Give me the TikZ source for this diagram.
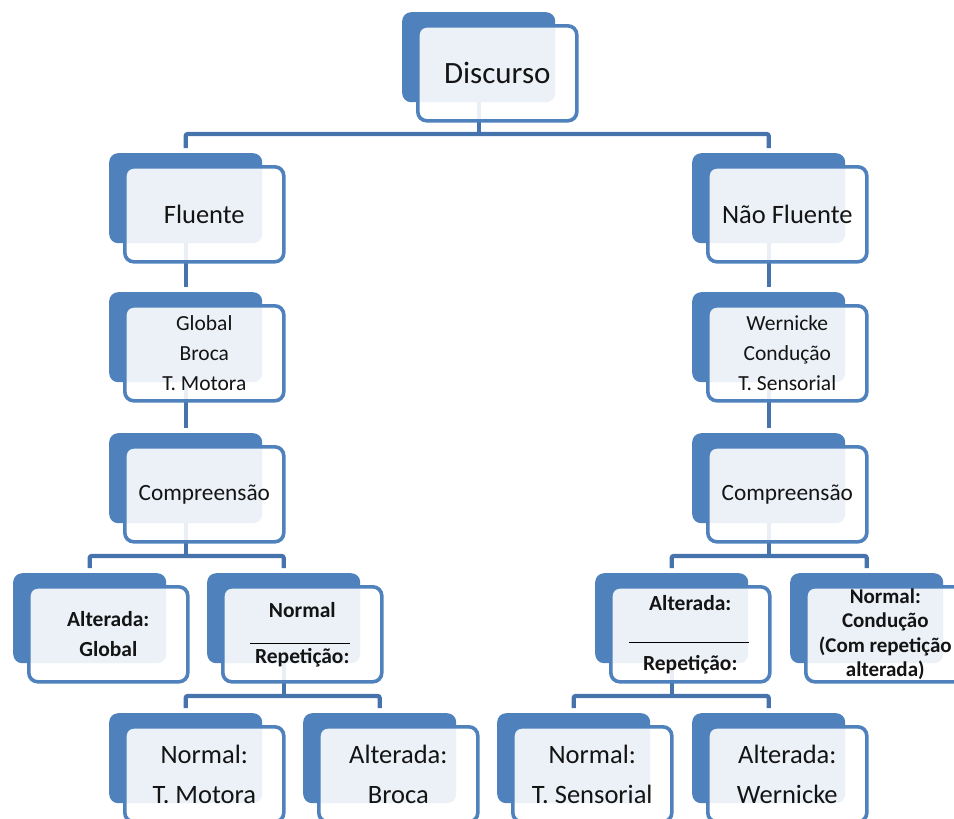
\documentclass[tikz,border=0pt]{standalone}
\usepackage{fontspec}
\setmainfont{Carlito}
\usetikzlibrary{backgrounds}
\definecolor{boxblue}{RGB}{79,129,189}
\definecolor{connblue}{RGB}{70,115,172}
\definecolor{txt}{RGB}{20,20,20}
\tikzset{
  backbox/.style={anchor=north west, fill=boxblue, draw=none, rounded corners=9pt,
    minimum width=153pt, minimum height=90pt, inner sep=0pt},
  frontbox/.style={anchor=north west, fill=white, fill opacity=0.89, text opacity=1,
    draw=boxblue, draw opacity=1, line width=3.6pt, rounded corners=9pt,
    minimum width=159pt, minimum height=95pt, inner sep=0pt, align=center, text=txt},
  conn/.style={draw=connblue, line width=4.2pt, rounded corners=2pt},
  fbig/.style={font=\fontsize{31}{36}\selectfont},
  fmid/.style={font=\fontsize{26.5}{30}\selectfont},
  fsmall/.style={font=\fontsize{21.5}{30}\selectfont},
  fcomp/.style={font=\fontsize{23.3}{28}\selectfont},
  frow/.style={font=\bfseries\fontsize{21.5}{30}\selectfont},
  ftight/.style={font=\bfseries\fontsize{21}{24.5}\selectfont},
  fbot/.style={font=\fontsize{26.5}{40}\selectfont},
  rulel/.style={draw=black, line width=0.9pt}
}
\newcommand\mybox[5]{%
  \node[backbox] (#1-back) at (#2,#3) {};
  \node[frontbox,#5] (#1) at ({#2+14},{#3+12}) {#4};
}
\begin{document}
\begin{tikzpicture}[x=1pt,y=-1pt]
\useasboundingbox (0,0) rectangle (954,819);
\mybox{disc}{402}{12}{Discurso}{fbig}
\mybox{flu}{109}{153}{Fluente}{fmid}
\mybox{nflu}{692}{153}{Não Fluente}{fmid}
\mybox{glob}{109}{292}{Global\\Broca\\T. Motora}{fsmall}
\mybox{wern}{692}{292}{Wernicke\\Condução\\T. Sensorial}{fsmall}
\mybox{compL}{109}{433}{Compreensão}{fcomp}
\mybox{compR}{692}{433}{Compreensão}{fcomp}
\mybox{altG}{13}{573}{Alterada:\\Global}{frow}
\mybox{normR}{207}{573}{Normal\\[16pt]Repetição:}{frow}
\mybox{altR}{595}{573}{Alterada:\\[30pt]Repetição:}{frow}
\mybox{normC}{790}{573}{Normal:\\Condução\\(Com repetição\\alterada)}{ftight}
\mybox{normTM}{109}{713}{Normal:\\T. Motora}{fbot}
\mybox{altB}{303}{713}{Alterada:\\Broca}{fbot}
\mybox{normTS}{497}{713}{Normal:\\T. Sensorial}{fbot}
\mybox{altW}{692}{713}{Alterada:\\Wernicke}{fbot}
% rules inside the comparison boxes
\draw[rulel] (250,643) -- (350,643);
\draw[rulel] (629,642) -- (749,642);
% bus coordinates
\coordinate (bus1) at (0,134);
\coordinate (bus2) at (0,556);
\coordinate (bus3) at (0,696);
\begin{pgfonlayer}{background}
\draw[conn] (disc-back.center) -- (bus1 -| disc-back.center);
\draw[conn] ([yshift=5pt]flu-back.north) |- (bus1 -| disc-back.center) -| ([yshift=5pt]nflu-back.north);
\draw[conn] (flu-back.center) -- ([yshift=5pt]glob-back.north);
\draw[conn] (nflu-back.center) -- ([yshift=5pt]wern-back.north);
\draw[conn] (glob-back.center) -- ([yshift=5pt]compL-back.north);
\draw[conn] (wern-back.center) -- ([yshift=5pt]compR-back.north);
\draw[conn] (compL-back.center) -- (bus2 -| compL-back.center);
\draw[conn] ([yshift=5pt]altG-back.north) |- (bus2 -| compL-back.center) -| ([yshift=5pt]normR-back.north);
\draw[conn] (compR-back.center) -- (bus2 -| compR-back.center);
\draw[conn] ([yshift=5pt]altR-back.north) |- (bus2 -| compR-back.center) -| ([yshift=5pt]normC-back.north);
\draw[conn] (normR-back.center) -- (bus3 -| normR-back.center);
\draw[conn] ([yshift=5pt]normTM-back.north) |- (bus3 -| normR-back.center) -| ([yshift=5pt]altB-back.north);
\draw[conn] (altR-back.center) -- (bus3 -| altR-back.center);
\draw[conn] ([yshift=5pt]normTS-back.north) |- (bus3 -| altR-back.center) -| ([yshift=5pt]altW-back.north);
\end{pgfonlayer}
\end{tikzpicture}
\end{document}
